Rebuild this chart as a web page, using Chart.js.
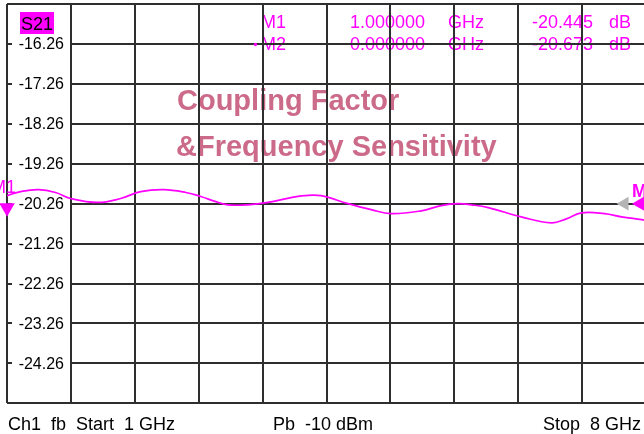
<!DOCTYPE html>
<html>
<head>
<meta charset="utf-8">
<script src="https://cdn.jsdelivr.net/npm/chart.js@4/dist/chart.umd.min.js"></script>
<style>
html,body{margin:0;padding:0;background:#fff;overflow:hidden;width:644px;height:434px;}
canvas{display:block;}
</style>
</head>
<body>
<canvas id="c" width="646" height="434"></canvas>
<script>
// ---- data ----
const freqGHz = [1.000, 1.148, 1.346, 1.532, 1.697, 1.993, 2.245, 2.465, 2.717, 2.959, 3.123, 3.288, 3.420, 3.639, 3.859, 4.111, 4.256, 4.440, 4.736, 4.989, 5.208, 5.538, 5.757, 5.943, 6.086, 6.272, 6.634, 6.964, 7.128, 7.293, 7.545, 7.732, 7.951, 8.000];
const s21dB   = [-20.06, -19.96, -19.91, -19.98, -20.13, -20.23, -20.13, -19.96, -19.91, -19.98, -20.08, -20.21, -20.29, -20.29, -20.23, -20.11, -20.06, -20.06, -20.26, -20.41, -20.51, -20.44, -20.31, -20.26, -20.29, -20.36, -20.59, -20.74, -20.64, -20.49, -20.51, -20.59, -20.66, -20.68];

const xGridGHz = [1, 1.7, 2.4, 3.1, 3.8, 4.5, 5.2, 5.9, 6.6, 7.3, 8];
const yGridDB = [-25.26, -24.26, -23.26, -22.26, -21.26, -20.26, -19.26, -18.26, -17.26, -16.26, -15.26];
const yTickLabels = ['-16.26', '-17.26', '-18.26', '-19.26', '-20.26', '-21.26', '-22.26', '-23.26', '-24.26'];

const markerNames = ['M1', 'M2'];
const markerFreq = [1.0, 7.945];
const markerDB = [-20.36, -20.26];
const markerRotation = [180, 270];
const ghostFreq = [7.765];
const ghostDB = [-20.26];

const readoutFreq = ['1.000000', '0.000000'];
const readoutVal = ['-20.445', '-20.673'];

const titleLines = ['Coupling Factor', '&Frequency Sensitivity'];
const footerLeft = 'Ch1  fb  Start  1 GHz';
const footerMid = 'Pb  -10 dBm';
const footerRight = 'Stop  8 GHz';
const traceName = 'S21';

const MAG = '#ff00ff';
const FONT = '"Liberation Sans", Arial, sans-serif';

const underlayPlugin = {
  id: 'underlay',
  beforeDraw(chart) {
    const ctx = chart.ctx;
    ctx.save();
    ctx.fillStyle = '#cc6a8a';
    ctx.font = 'bold 29px ' + FONT;
    ctx.textAlign = 'left';
    ctx.textBaseline = 'alphabetic';
    ctx.fillText(titleLines[0], 177, 110);
    ctx.fillText(titleLines[1], 176, 156);
    ctx.fillStyle = MAG;
    ctx.font = '18px ' + FONT;
    const rows = [28, 50];
    for (let i = 0; i < markerNames.length; i++) {
      const b = rows[i];
      ctx.textAlign = 'left';
      ctx.fillText(markerNames[i], 261, b);
      ctx.textAlign = 'right';
      ctx.fillText(readoutFreq[i], 425, b);
      ctx.textAlign = 'left';
      ctx.fillText('GHz', 448, b);
      ctx.textAlign = 'right';
      ctx.fillText(readoutVal[i], 593, b);
      ctx.textAlign = 'left';
      ctx.fillText('dB', 609, b);
    }
    ctx.restore();
  }
};

const tickLabelPlugin = {
  id: 'ticklabels',
  beforeDatasetsDraw(chart) {
    const ctx = chart.ctx;
    const ys = chart.scales.y;
    const left = chart.chartArea.left;
    ctx.save();
    ctx.font = '16px ' + FONT;
    ctx.textAlign = 'right';
    ctx.textBaseline = 'middle';
    yTickLabels.forEach(t => {
      const y = ys.getPixelForValue(parseFloat(t));
      ctx.fillStyle = '#ffffff';
      ctx.fillRect(left + 5, y - 8, 58, 16);
      ctx.fillStyle = '#000000';
      ctx.fillText(t, left + 57, y + 1);
    });
    ctx.restore();
  }
};

const overlayPlugin = {
  id: 'overlay',
  afterDraw(chart) {
    const ctx = chart.ctx;
    const xs = chart.scales.x, ys = chart.scales.y;
    ctx.save();
    // active marker dot
    ctx.fillStyle = MAG;
    ctx.beginPath();
    ctx.arc(255.5, 44.5, 1.7, 0, Math.PI * 2);
    ctx.fill();
    // trace name box
    ctx.fillRect(20, 12, 34, 22);
    ctx.fillStyle = '#000';
    ctx.font = '18px ' + FONT;
    ctx.textAlign = 'left';
    ctx.textBaseline = 'alphabetic';
    ctx.fillText(traceName, 21, 30);
    ctx.fillStyle = MAG;
    const m1x = xs.getPixelForValue(markerFreq[0]);
    const m1y = ys.getPixelForValue(markerDB[0]);
    ctx.fillText(markerNames[0], m1x - 16, m1y - 15);
    const m2x = xs.getPixelForValue(markerFreq[1]);
    const m2y = ys.getPixelForValue(markerDB[1]);
    ctx.font = 'bold 18px ' + FONT;
    ctx.fillText(markerNames[1], m2x - 9, m2y - 7);
    ctx.font = '18px ' + FONT;
    ctx.fillStyle = '#000';
    ctx.textAlign = 'left';
    ctx.fillText(footerLeft, 8, 430);
    ctx.textAlign = 'center';
    ctx.fillText(footerMid, 323, 430);
    ctx.textAlign = 'right';
    ctx.fillText(footerRight, 641, 430);
    ctx.restore();
  }
};

const gridStyle = { color: '#2e2e2e', lineWidth: 2, drawTicks: false };

new Chart(document.getElementById('c'), {
  type: 'line',
  data: {
    datasets: [
      {
        label: traceName,
        data: freqGHz.map((f, i) => ({ x: f, y: s21dB[i] })),
        borderColor: MAG,
        borderWidth: 1.7,
        pointRadius: 0,
        tension: 0.4,
        fill: false
      },
      {
        label: 'ghost',
        type: 'scatter',
        data: ghostFreq.map((f, i) => ({ x: f, y: ghostDB[i] })),
        pointStyle: 'triangle',
        pointRotation: 270,
        pointRadius: 8,
        pointBackgroundColor: '#b4b4b4',
        pointBorderColor: '#b4b4b4',
        pointBorderWidth: 0,
        clip: false
      },
      {
        label: 'markers',
        type: 'scatter',
        data: markerFreq.map((f, i) => ({ x: f, y: markerDB[i] })),
        pointStyle: 'triangle',
        pointRotation: markerRotation,
        pointRadius: 9,
        pointBackgroundColor: MAG,
        pointBorderColor: MAG,
        pointBorderWidth: 0,
        clip: false
      }
    ]
  },
  options: {
    responsive: false,
    animation: false,
    events: [],
    layout: { autoPadding: false, padding: { left: 7, top: 4, right: 0, bottom: 30.7 } },
    plugins: { legend: { display: false }, tooltip: { enabled: false }, title: { display: false } },
    scales: {
      x: {
        type: 'linear', min: 1, max: 8,
        afterBuildTicks: s => { s.ticks = xGridGHz.map(v => ({ value: v })); },
        ticks: { display: false },
        grid: gridStyle,
        border: { display: false }
      },
      y: {
        type: 'linear', min: -25.26, max: -15.26,
        afterBuildTicks: s => { s.ticks = yGridDB.map(v => ({ value: v })); },
        ticks: { display: false },
        grid: gridStyle,
        border: { display: false }
      }
    }
  },
  plugins: [underlayPlugin, tickLabelPlugin, overlayPlugin]
});
</script>
</body>
</html>
